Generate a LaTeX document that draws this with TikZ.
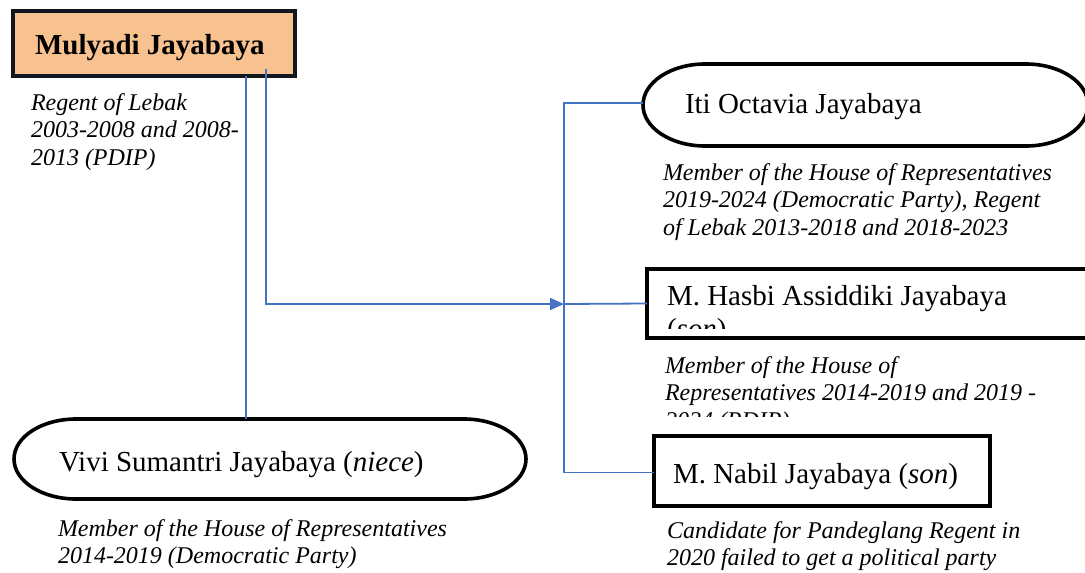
\documentclass[tikz,border=0pt]{standalone}
\usepackage{fontspec}
\setmainfont{Liberation Serif}
\usetikzlibrary{arrows.meta}
\definecolor{peach}{RGB}{248,193,144}
\definecolor{linkblue}{RGB}{68,114,196}
\definecolor{darkedge}{RGB}{18,22,30}
\tikzset{
  namefont/.style={font=\fontsize{29}{33}\selectfont},
  descfont/.style={font=\fontsize{24}{27.5}\selectfont\itshape, align=left},
  txt/.style={anchor=base west, inner sep=0pt, outer sep=0pt},
  frame/.style={anchor=north west, inner sep=0pt, outer sep=0pt, draw=none},
  boxline/.style={draw=black, line width=3.6pt},
  link/.style={draw=linkblue, line width=1.8pt},
  arrowlink/.style={link, -{Triangle[length=14pt,width=12pt]}},
}
\newcommand\stadium[3]{% node name, x radius, y radius
  \draw[boxline] ([xshift=#2]#1.north west) -- ([xshift=-#2]#1.north east)
    arc[start angle=90, end angle=-90, x radius=#2, y radius=#3]
    -- ([xshift=#2]#1.south west)
    arc[start angle=270, end angle=90, x radius=#2, y radius=#3] -- cycle;
}
\begin{document}
\begin{tikzpicture}[x=1pt, y=-1pt]
\useasboundingbox (0,0) rectangle (1085,573);
\clip (0,0) rectangle (1085,573);

% ---------- shapes ----------
\node[frame, draw=darkedge, fill=peach, line width=3.6pt,
      minimum width=282pt, minimum height=65pt] (mul) at (13,11) {};
\node[frame, minimum width=445pt, minimum height=82pt] (iti) at (643,64) {};
\stadium{iti}{62pt}{41pt}
\node[frame, boxline, minimum width=460pt, minimum height=69pt] (hasbi) at (647,269) {};
\node[frame, boxline, minimum width=336pt, minimum height=70pt] (nabil) at (654,436) {};
\node[frame, minimum width=512pt, minimum height=80pt] (vivi) at (14,419) {};
\stadium{vivi}{62pt}{40pt}

% ---------- names ----------
\node[txt, font=\fontsize{29}{33}\selectfont\bfseries] (mult) at (35,54) {Mulyadi Jayabaya};
\node[txt, namefont] (itit) at (685,113) {Iti Octavia Jayabaya};
\begin{scope}
  \clip (640,260) rectangle (1085,328);
  \node[txt, namefont, align=left] (hasbit) at (667,338)
    {M. Hasbi Assiddiki Jayabaya\\(\textit{son})};
\end{scope}
\node[txt, namefont] (nabilt) at (673,483) {M. Nabil Jayabaya (\textit{son})};
\node[txt, namefont] (vivit) at (59,471) {Vivi Sumantri Jayabaya (\textit{niece})};

% ---------- descriptions (anchor = baseline of last line) ----------
\node[txt, descfont] (muld) at (31,165)
  {Regent of Lebak\\2003-2008 and 2008-\\2013 (PDIP)};
\node[txt, descfont] (itid) at (663,235)
  {Member of the House of Representatives\\2019-2024 (Democratic Party), Regent\\of Lebak 2013-2018 and 2018-2023};
\begin{scope}
  \clip (640,345) rectangle (1085,416);
  \node[txt, descfont] (hasbid) at (665,428)
    {Member of the House of\\Representatives 2014-2019 and 2019 -\\2024 (PDIP)};
\end{scope}
\node[txt, descfont] (nabild) at (667,565.5)
  {Candidate for Pandeglang Regent in\\2020 failed to get a political party};
\node[txt, descfont] (vivid) at (58,563.5)
  {Member of the House of Representatives\\2014-2019 (Democratic Party)};

% ---------- connectors ----------
\coordinate (jn) at (564,304);
\draw[link] ([xshift=92pt]mul.south) -- ([xshift=92pt]mul.south |- vivi.north);
\draw[arrowlink] ([xshift=112pt, yshift=7pt]mul.south) |- (jn);
\draw[link] ([yshift=2pt]iti.west) -| (jn) |- ([yshift=-1.5pt]nabil.west);
\draw[link] (jn) -- (hasbi.west);
\end{tikzpicture}
\end{document}
